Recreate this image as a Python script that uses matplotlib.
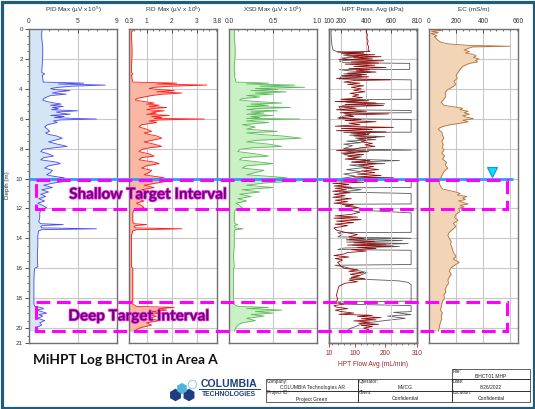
import numpy as np
import matplotlib
matplotlib.use('Agg')
import matplotlib.pyplot as plt
from matplotlib.patches import Rectangle, RegularPolygon, Circle
from matplotlib.ticker import MultipleLocator
import matplotlib.patheffects as pe

plt.rcParams['font.family'] = ['Liberation Sans', 'DejaVu Sans']

# ---------------- data ----------------
depth = [0.0, 0.2, 0.6, 1.2, 1.8, 2.4, 2.9, 3.0, 3.1, 3.3,
         3.55, 3.62, 3.68, 3.75, 3.82, 3.9, 3.98, 4.05, 4.12, 4.2,
         4.28, 4.36, 4.45, 4.55, 4.65, 4.75, 4.85, 4.95, 5.02, 5.1,
         5.18, 5.25, 5.32, 5.4, 5.47, 5.55, 5.62, 5.7, 5.78, 5.85,
         5.92, 5.98, 6.02, 6.08, 6.15, 6.25, 6.4, 6.55, 6.7, 6.85,
         6.95, 7.05, 7.15, 7.3, 7.45, 7.55, 7.7, 7.85, 7.95, 8.05,
         8.2, 8.35, 8.5, 8.6, 8.75, 8.9, 9.0, 9.15, 9.3, 9.45,
         9.6, 9.75, 9.85, 9.95, 10.05, 10.15, 10.3, 10.45, 10.6, 10.75,
         10.9, 11.05, 11.2, 11.35, 11.5, 11.65, 11.8, 11.95, 12.1, 12.3,
         12.6, 12.9, 13.02, 13.08, 13.14, 13.2, 13.3, 13.36, 13.42, 13.5,
         13.8, 14.5, 15.2, 15.9, 16.0, 16.1, 16.8, 17.6, 18.4, 18.55,
         18.62, 18.7, 18.8, 18.9, 19.0, 19.1, 19.2, 19.35, 19.5, 19.65,
         19.8, 19.95, 20.1, 20.2]

pid = [1.4, 1.3, 1.3, 1.4, 1.4, 1.35, 1.3, 1.6, 1.35, 1.4,
       1.45, 5.6, 3.0, 7.8, 4.5, 3.0, 2.2, 2.6, 4.2, 3.0,
       2.4, 3.8, 2.2, 1.8, 1.5, 1.4, 1.8, 2.6, 3.3, 2.2,
       3.5, 2.4, 3.0, 2.3, 5.0, 2.8, 3.2, 4.2, 2.2, 3.6,
       2.6, 4.5, 6.9, 3.2, 2.5, 2.9, 1.9, 1.6, 1.9, 2.1,
       1.7, 2.0, 2.8, 3.4, 2.6, 2.0, 2.9, 3.9, 2.5, 1.4,
       1.2, 2.0, 2.5, 1.5, 1.2, 2.8, 3.2, 2.0, 1.6, 2.4,
       2.2, 1.8, 2.5, 3.6, 2.1, 4.1, 2.5, 1.5, 2.4, 1.3,
       2.0, 1.2, 1.7, 1.0, 1.6, 0.9, 1.4, 1.8, 1.2, 1.1,
       1.1, 1.0, 1.2, 3.5, 1.4, 1.2, 1.3, 6.9, 1.3, 1.0,
       0.9, 0.9, 0.85, 0.9, 0.6, 0.55, 0.5, 0.5, 0.5, 0.6,
       1.2, 1.5, 0.8, 1.3, 1.8, 1.0, 1.4, 0.9, 1.6, 1.1,
       1.3, 0.8, 0.7, 0.6]

fid = [0.5, 0.4, 0.4, 0.42, 0.42, 0.4, 0.4, 0.45, 0.4, 0.42,
       0.45, 2.2, 1.4, 3.4, 2.0, 1.3, 1.1, 1.5, 2.1, 1.4,
       2.4, 1.6, 1.2, 0.9, 0.6, 0.55, 0.9, 1.3, 1.0, 1.5,
       1.1, 1.8, 1.2, 1.0, 1.7, 1.2, 1.4, 1.0, 1.9, 1.2,
       1.6, 1.3, 3.3, 1.5, 1.1, 1.4, 0.8, 0.7, 1.0, 1.2,
       0.9, 1.1, 1.4, 1.6, 1.2, 0.9, 1.3, 1.6, 1.1, 0.8,
       0.7, 1.1, 1.3, 0.8, 0.7, 1.3, 1.5, 1.0, 0.8, 1.2,
       1.1, 0.9, 1.3, 1.7, 1.1, 1.9, 1.4, 0.9, 1.3, 0.8,
       1.1, 0.7, 1.0, 0.6, 0.9, 0.6, 0.8, 0.9, 0.5, 0.45,
       0.45, 0.45, 0.5, 1.0, 0.6, 0.5, 0.55, 2.4, 0.6, 0.45,
       0.4, 0.4, 0.4, 0.4, 0.45, 0.45, 0.45, 0.45, 0.45, 0.6,
       2.1, 1.5, 1.8, 1.2, 1.6, 1.0, 1.4, 1.1, 1.5, 1.0,
       1.2, 0.8, 0.6, 0.5]

xsd = [0.07, 0.06, 0.06, 0.07, 0.07, 0.06, 0.06, 0.07, 0.06, 0.07,
       0.08, 0.45, 0.2, 0.75, 0.35, 0.86, 0.3, 0.55, 0.25, 0.65,
       0.3, 0.5, 0.2, 0.35, 0.15, 0.12, 0.3, 0.6, 0.25, 0.45,
       0.2, 0.7, 0.3, 0.2, 0.55, 0.25, 0.4, 0.2, 0.5, 0.25,
       0.35, 0.2, 0.8, 0.3, 0.2, 0.45, 0.15, 0.3, 0.2, 0.55,
       0.2, 0.35, 0.6, 0.82, 0.3, 0.2, 0.45, 0.6, 0.25, 0.12,
       0.1, 0.3, 0.45, 0.15, 0.12, 0.35, 0.5, 0.2, 0.15, 0.4,
       0.3, 0.2, 0.45, 0.66, 0.3, 0.8, 0.4, 0.2, 0.5, 0.15,
       0.35, 0.12, 0.25, 0.1, 0.2, 0.08, 0.12, 0.15, 0.07, 0.06,
       0.06, 0.06, 0.07, 0.1, 0.07, 0.06, 0.07, 0.16, 0.07, 0.06,
       0.06, 0.06, 0.05, 0.06, 0.05, 0.05, 0.05, 0.05, 0.05, 0.1,
       0.45, 0.2, 0.6, 0.3, 0.5, 0.25, 0.4, 0.2, 0.3, 0.15,
       0.1, 0.08, 0.07, 0.06]

press_depth = [0.0, 0.2, 0.4, 0.6, 0.8, 1.0, 1.2, 1.4, 1.5, 1.55,
               1.6, 1.65, 1.72, 1.8, 1.85, 1.92, 2.0, 2.05, 2.12, 2.2,
               2.28, 2.35, 2.42, 2.5, 2.58, 2.65, 2.72, 2.8, 2.88, 2.95,
               3.05, 3.12, 3.2, 3.3, 3.4, 3.45, 3.55, 3.62, 3.7, 3.8,
               3.9, 4.0, 4.1, 4.2, 4.3, 4.4, 4.5, 4.6, 4.7, 4.8,
               4.85, 4.95, 5.05, 5.12, 5.2, 5.3, 5.4, 5.5, 5.6, 5.68,
               5.75, 5.85, 5.95, 6.05, 6.12, 6.2, 6.3, 6.4, 6.5, 6.58,
               6.65, 6.72, 6.8, 6.88, 6.95, 7.05, 7.15, 7.25, 7.35, 7.45,
               7.55, 7.65, 7.75, 7.85, 7.95, 8.05, 8.12, 8.2, 8.3, 8.4,
               8.5, 8.6, 8.7, 8.8, 8.9, 9.0, 9.1, 9.2, 9.3, 9.4,
               9.5, 9.6, 9.7, 9.8, 9.9, 9.95, 10.0, 10.08, 10.15, 10.25,
               10.32, 10.4, 10.5, 10.58, 10.65, 10.75, 10.85, 10.95, 11.05, 11.15,
               11.25, 11.35, 11.45, 11.55, 11.65, 11.75, 11.85, 11.95, 12.1, 12.25,
               12.4, 12.5, 12.58, 12.65, 12.75, 12.85, 12.95, 13.05, 13.15, 13.3,
               13.45, 13.6, 13.75, 13.9, 14.0, 14.1, 14.2, 14.3, 14.38, 14.45,
               14.52, 14.6, 14.68, 14.75, 14.85, 14.95, 15.05, 15.15, 15.25, 15.35,
               15.45, 15.6, 15.8, 16.0, 16.1, 16.2, 16.3, 16.4, 16.5, 16.6,
               16.7, 16.8, 16.9, 17.0, 17.2, 17.5, 17.8, 18.1, 18.3, 18.4,
               18.5, 18.6, 18.7, 18.8, 18.9, 19.0, 19.08, 19.15, 19.22, 19.3,
               19.38, 19.45, 19.52, 19.6, 19.68, 19.75, 19.82, 19.9, 20.0, 20.1,
               20.2]

press = [405, 400, 410, 405, 415, 410, 420, 415, 430, 170,
         380, 200, 470, 250, 520, 300, 450, 180, 540, 280,
         500, 230, 470, 300, 560, 260, 430, 320, 480, 250,
         400, 200, 420, 160, 600, 300, 220, 350, 250, 380,
         280, 360, 300, 390, 270, 340, 290, 370, 200, 420,
         150, 480, 230, 540, 180, 320, 160, 400, 190, 580,
         230, 300, 170, 360, 230, 480, 260, 350, 150, 620,
         200, 450, 160, 560, 280, 420, 300, 480, 330, 400,
         360, 450, 390, 470, 350, 300, 160, 420, 200, 380,
         250, 330, 230, 430, 280, 480, 340, 460, 380, 500,
         360, 470, 330, 520, 300, 620, 250, 450, 150, 380,
         130, 260, 140, 280, 150, 240, 130, 270, 140, 230,
         130, 280, 150, 250, 140, 300, 230, 330, 260, 350,
         280, 150, 330, 140, 360, 160, 300, 150, 250, 140,
         160, 230, 330, 260, 380, 240, 470, 300, 560, 250,
         620, 330, 480, 280, 400, 250, 220, 140, 260, 150,
         210, 170, 190, 220, 330, 260, 380, 270, 350, 280,
         390, 260, 330, 230, 180, 170, 160, 170, 150, 220,
         140, 160, 250, 150, 200, 300, 180, 450, 330, 520,
         360, 480, 300, 430, 340, 500, 360, 450, 380, 420,
         400]

flow_depth = [0.0, 0.3, 0.7, 1.1, 1.4, 1.5, 1.55, 1.6, 1.65, 1.75,
              1.85, 1.95, 2.05, 2.15, 2.25, 2.3, 2.7, 2.72, 2.8, 2.9,
              3.0, 3.1, 3.2, 3.35, 3.4, 4.7, 4.72, 4.8, 4.9, 5.0,
              5.1, 5.2, 5.4, 5.45, 5.6, 5.62, 5.75, 5.85, 6.0, 6.05,
              6.9, 6.92, 7.0, 7.1, 7.2, 7.3, 7.4, 7.5, 7.6, 7.7,
              7.8, 8.0, 8.1, 8.13, 8.25, 8.4, 8.55, 8.7, 8.8, 8.9,
              9.0, 9.1, 9.25, 9.4, 9.55, 9.7, 9.85, 10.0, 10.1, 10.6,
              10.62, 10.75, 10.9, 11.0, 11.7, 11.72, 11.85, 12.0, 12.15, 12.3,
              13.6, 13.62, 13.75, 13.9, 14.0, 14.05, 14.15, 14.25, 14.35, 14.45,
              14.55, 14.65, 14.75, 14.8, 15.75, 15.8, 15.9, 16.1, 16.3, 16.5,
              16.7, 16.8, 16.85, 16.95, 17.1, 18.2, 18.25, 18.4, 18.5, 18.9,
              18.95, 19.1, 19.2, 19.35, 19.5, 19.6, 19.75, 19.9, 20.05, 20.2]

flow = [18, 17, 18, 20, 24, 35, 70, 130, 90, 60,
        110, 50, 90, 45, 60, 285, 285, 45, 80, 150,
        60, 120, 50, 45, 290, 290, 50, 110, 70, 200,
        60, 45, 50, 290, 290, 60, 90, 50, 45, 290,
        290, 60, 150, 80, 200, 100, 170, 70, 120, 60,
        90, 60, 290, 60, 100, 60, 120, 80, 250, 90,
        200, 80, 140, 70, 120, 60, 100, 50, 290, 290,
        60, 120, 45, 290, 290, 50, 90, 120, 150, 290,
        290, 40, 55, 40, 290, 80, 260, 70, 280, 90,
        250, 60, 40, 290, 290, 30, 60, 100, 140, 110,
        80, 200, 250, 280, 290, 290, 40, 60, 290, 290,
        230, 290, 210, 270, 200, 160, 120, 100, 80, 70]

ec_depth = [0.0, 0.1, 0.15, 0.25, 0.3, 0.45, 0.5, 0.7, 0.9, 1.0,
            1.1, 1.15, 1.2, 1.3, 1.4, 1.5, 1.6, 1.7, 1.8, 1.9,
            2.0, 2.1, 2.2, 2.3, 2.5, 2.7, 2.9, 3.1, 3.3, 3.5,
            3.7, 3.9, 4.1, 4.3, 4.5, 4.7, 4.9, 5.1, 5.2, 5.3,
            5.4, 5.5, 5.6, 5.7, 5.8, 5.9, 6.0, 6.1, 6.2, 6.3,
            6.4, 6.5, 6.6, 6.7, 6.8, 6.9, 7.1, 7.3, 7.5, 7.7,
            7.9, 8.1, 8.3, 8.5, 8.7, 8.9, 9.1, 9.3, 9.5, 9.7,
            9.9, 10.1, 10.3, 10.5, 10.7, 10.8, 10.9, 11.0, 11.1, 11.2,
            11.3, 11.4, 11.5, 11.6, 11.7, 11.8, 11.9, 12.0, 12.2, 12.4,
            12.6, 12.8, 13.0, 13.2, 13.4, 13.6, 13.8, 14.0, 14.2, 14.4,
            14.6, 14.8, 15.0, 15.2, 15.4, 15.6, 15.8, 16.0, 16.2, 16.4,
            16.6, 16.8, 17.0, 17.2, 17.4, 17.6, 17.8, 18.0, 18.2, 18.4,
            18.6, 18.8, 19.0, 19.2, 19.4, 19.6, 19.8, 20.0, 20.2]

ec = [30, 90, 20, 70, 15, 60, 40, 60, 90, 150,
      300, 600, 320, 290, 260, 300, 270, 330, 350, 330,
      370, 345, 360, 300, 250, 230, 215, 200, 210, 185,
      200, 170, 130, 120, 125, 110, 90, 110, 180, 250,
      230, 290, 260, 300, 250, 280, 330, 250, 290, 230,
      160, 110, 80, 70, 80, 95, 100, 110, 95, 105,
      100, 110, 95, 115, 100, 130, 120, 140, 115, 100,
      90, 80, 75, 85, 100, 150, 200, 230, 210, 280,
      250, 270, 220, 250, 290, 230, 260, 220, 230, 200,
      190, 215, 180, 200, 175, 150, 140, 150, 165, 160,
      170, 175, 185, 200, 180, 225, 190, 160, 150, 165,
      150, 140, 145, 130, 120, 125, 110, 115, 100, 95,
      90, 85, 100, 90, 95, 85, 80, 75, 70]

water_depth = 10.0
shallow_interval = (10.12, 12.05)
deep_interval = (18.25, 20.2)

depth_ticks = [0, 2, 4, 6, 8, 10, 12, 14, 16, 18, 20, 21]

# ---------------- layout ----------------
W, H = 535, 409
TOP, BOT = 29, 343
fig = plt.figure(figsize=(W / 100, H / 100), dpi=100)
fig.patch.set_facecolor('white')


def rect(x0, x1):
    return [x0 / W, 1 - BOT / H, (x1 - x0) / W, (BOT - TOP) / H]


panels_px = [(29, 117), (129, 217), (229, 317), (329, 417), (429, 518)]
SPINE = '#707070'
GRID = '#c8c8c8'
DARKRED = '#a52222'

specs = [
    dict(title='PID Max (µV x 10$^5$)', xlim=(0, 9), ticks=[0, 5, 9],
         labels=['0', '5', '9'], grid=[5], minor=1),
    dict(title='FID Max (µV x 10$^5$)', xlim=(0.3, 3.8), ticks=[0.3, 1, 2, 3, 3.8],
         labels=['0.3', '1', '2', '3', '3.8'], grid=[1, 2, 3], minor=0.25),
    dict(title='XSD Max (µV x 10$^5$)', xlim=(0, 1.0), ticks=[0, 0.5, 1.0],
         labels=['0.0', '0.5', '1.0'], grid=[0.5], minor=0.1),
    dict(title='HPT Press. Avg (kPa)', xlim=(100, 810), ticks=[100, 200, 400, 600, 810],
         labels=['100', '200', '400', '600', '810'], grid=[200, 400, 600], minor=50),
    dict(title='EC (mS/m)', xlim=(0, 660), ticks=[0, 200, 400, 660],
         labels=['0', '200', '400', '660'], grid=[200, 400, 600], minor=50),
]


def style_top(ax, sp):
    ax.set_xlim(*sp['xlim'])
    ax.xaxis.set_ticks_position('top')
    ax.set_xticks(sp['ticks'])
    ax.set_xticklabels(sp['labels'])
    ax.xaxis.set_minor_locator(MultipleLocator(sp['minor']))
    ax.tick_params(axis='x', which='major', direction='in', length=3, width=0.6,
                   labelsize=4.8, pad=3, colors='#333333')
    ax.tick_params(axis='x', which='minor', direction='in', length=1.6, width=0.5,
                   colors='#333333')
    ax.text(0.5, 1 + (TOP - 10) / (BOT - TOP), sp['title'], transform=ax.transAxes,
            ha='center', va='center', fontsize=4.6, color='#333333')
    for g in sp['grid']:
        ax.axvline(g, color=GRID, lw=0.8, zorder=0.5)


axes = []
for i, (x0, x1) in enumerate(panels_px):
    ax = fig.add_axes(rect(x0, x1))
    ax.set_ylim(21, 0)
    ax.set_yticks([0, 2, 4, 6, 8, 10, 12, 14, 16, 18, 20])
    ax.yaxis.grid(True, color=GRID, lw=0.8)
    ax.set_axisbelow(True)
    for s in ax.spines.values():
        s.set_color(SPINE)
        s.set_linewidth(1.0)
    if i == 0:
        ax.set_yticks(depth_ticks)
        ax.set_yticklabels([str(t) for t in depth_ticks])
        ax.yaxis.set_minor_locator(MultipleLocator(0.5))
        ax.tick_params(axis='y', which='major', direction='out', length=3, width=0.6,
                       labelsize=4.5, pad=1.5, colors='#333333')
        ax.tick_params(axis='y', which='minor', direction='out', length=1.5, width=0.5,
                       colors='#333333')
    else:
        ax.tick_params(axis='y', which='both', left=False, labelleft=False)
    axes.append(ax)

ax1, ax2, ax3, ax4, ax5 = axes

# PID
style_top(ax1, specs[0])
ax1.fill_betweenx(depth, 0, pid, color='#d4e6f6', lw=0, zorder=1)
ax1.plot(pid, depth, color='#4b4bf5', lw=0.6, zorder=2)

# FID
style_top(ax2, specs[1])
ax2.fill_betweenx(depth, 0.3, fid, color='#f9b7a4', lw=0, zorder=1)
ax2.plot(fid, depth, color='#ff1c1c', lw=0.6, zorder=2)

# XSD
style_top(ax3, specs[2])
ax3.fill_betweenx(depth, 0, xsd, color='#c9f1c3', lw=0, zorder=1)
ax3.plot(xsd, depth, color='#5cb85c', lw=0.6, zorder=2)

# EC
style_top(ax5, specs[4])
ax5.fill_betweenx(ec_depth, 0, ec, color='#f2d5b6', lw=0, zorder=1)
ax5.plot(ec, ec_depth, color='#b5703a', lw=0.6, zorder=2)

# HPT: flow on main (bottom axis), pressure on twin (top axis)
ax4.set_xlim(10, 310)
ax4.set_xticks([10, 100, 200, 310])
ax4.xaxis.set_minor_locator(MultipleLocator(20))
ax4.tick_params(axis='x', which='major', direction='out', length=3, width=0.6,
                labelsize=4.8, pad=2, colors=DARKRED)
ax4.tick_params(axis='x', which='minor', direction='out', length=1.6, width=0.5,
                colors=DARKRED)
ax4.set_xlabel('HPT Flow Avg (mL/min)', fontsize=4.8, color=DARKRED, labelpad=3)
ax4.plot(flow, flow_depth, color='#5a5a5a', lw=0.6, zorder=2)

ax4p = ax4.twiny()
ax4p.set_ylim(21, 0)
style_top(ax4p, specs[3])
for s in ax4p.spines.values():
    s.set_color(SPINE)
    s.set_linewidth(1.0)
ax4p.plot(press, press_depth, color='#930d0d', lw=0.6, zorder=3)

fig.text(7 / W, 1 - 185 / H, 'Depth (m)', rotation=90, ha='center', va='center',
         fontsize=4.5, color='#333333')

# ---------------- overlay spanning the tracks ----------------
span = fig.add_axes(rect(29, 518), zorder=5)
span.set_xlim(0, 1)
span.set_ylim(21, 0)
span.axis('off')
span.patch.set_alpha(0)

span.plot([0, 0.99], [water_depth, water_depth], color='#3399ff', lw=2.0,
          solid_capstyle='butt', zorder=3)
span.plot([0.947], [water_depth - 0.45], marker='v', ms=7.5, mfc='#00e5ff',
          mec='#1e88e5', mew=0.8, zorder=4)

for (d0, d1) in (shallow_interval, deep_interval):
    span.add_patch(Rectangle((0.014, d0), 0.963, d1 - d0, fill=False, ec='#ff00ff',
                             lw=2.2, ls=(0, (4.5, 2.2)), zorder=5))

txt_fx = [pe.Stroke(linewidth=1.1, foreground='#ff2bff'), pe.Normal()]
span.text(0.243, sum(shallow_interval) / 2, 'Shallow Target Interval', ha='center',
          va='center', fontsize=11, fontweight='bold', family=['Lato', 'DejaVu Sans'],
          color='#5e0f62', path_effects=txt_fx, zorder=6)
span.text(0.224, sum(deep_interval) / 2, 'Deep Target Interval', ha='center',
          va='center', fontsize=11, fontweight='bold', family=['Lato', 'DejaVu Sans'],
          color='#5e0f62', path_effects=txt_fx, zorder=6)

# ---------------- page overlay (title, logo, title block) ----------------
ov = fig.add_axes([0, 0, 1, 1], zorder=6)
ov.set_xlim(0, W)
ov.set_ylim(H, 0)
ov.axis('off')
ov.patch.set_alpha(0)

ov.text(33, 360, 'MiHPT Log BHCT01 in Area A', ha='left', va='center', fontsize=9.8,
        fontweight='bold', family=['Lato', 'DejaVu Sans'], color='#111111')

# logo
NAVY = '#1f3d7f'
ov.add_patch(RegularPolygon((175.5, 395), 6, radius=6.3, fc=NAVY, ec='none'))
ov.add_patch(RegularPolygon((189, 395), 6, radius=6.3, fc=NAVY, ec='none'))
ov.add_patch(RegularPolygon((182, 388.5), 6, radius=5.6, fc='#4fb3df', ec='none'))
ov.add_patch(Circle((192.5, 384.5), 4.2, fc='white', ec='#8fd0ee', lw=0.8))
ov.text(229, 384, 'COLUMBIA', ha='center', va='center', fontsize=7.6,
        fontweight='bold', color=NAVY)
ov.plot([198.5, 259.5], [389, 389], color=NAVY, lw=0.7)
ov.text(229, 394.8, 'TECHNOLOGIES', ha='center', va='center', fontsize=4.9,
        fontweight='bold', color=NAVY)

# title block
cols = [266, 358, 452, 530]
rows = [369, 379, 390.5, 402]
lc = '#222222'
ov.add_patch(Rectangle((cols[2], rows[0]), cols[3] - cols[2], rows[1] - rows[0],
                       fill=False, ec=lc, lw=0.5))
for r in range(2):
    for c in range(3):
        ov.add_patch(Rectangle((cols[c], rows[r + 1]), cols[c + 1] - cols[c],
                               rows[r + 2] - rows[r + 1], fill=False, ec=lc, lw=0.5))

cells = [
    (2, 0, 'File:', 'BHCT01 MHP'),
    (0, 1, 'Company:', 'COLUMBIA Technologies AR'),
    (1, 1, 'Operator:', 'MVCG'),
    (2, 1, 'Date:', '8/26/2022'),
    (0, 2, 'Project ID:', 'Project Green'),
    (1, 2, 'Client:', 'Confidential'),
    (2, 2, 'Location:', 'Confidential'),
]
for c, r, lab, val in cells:
    x0, x1 = cols[c], cols[c + 1]
    y0, y1 = rows[r], rows[r + 1]
    ov.text(x0 + 0.8, y0 + 2.2, lab, ha='left', va='center', fontsize=3.3, color='#222222')
    ov.text((x0 + x1) / 2, y1 - 3.0, val, ha='center', va='center', fontsize=3.6,
            color='#222222')

# frame
ov.add_patch(Rectangle((1.5, 1.5), W - 3, H - 3, fill=False, ec='#1f5c7b', lw=2.3))

fig.savefig('out.png', dpi=100, facecolor='white')
